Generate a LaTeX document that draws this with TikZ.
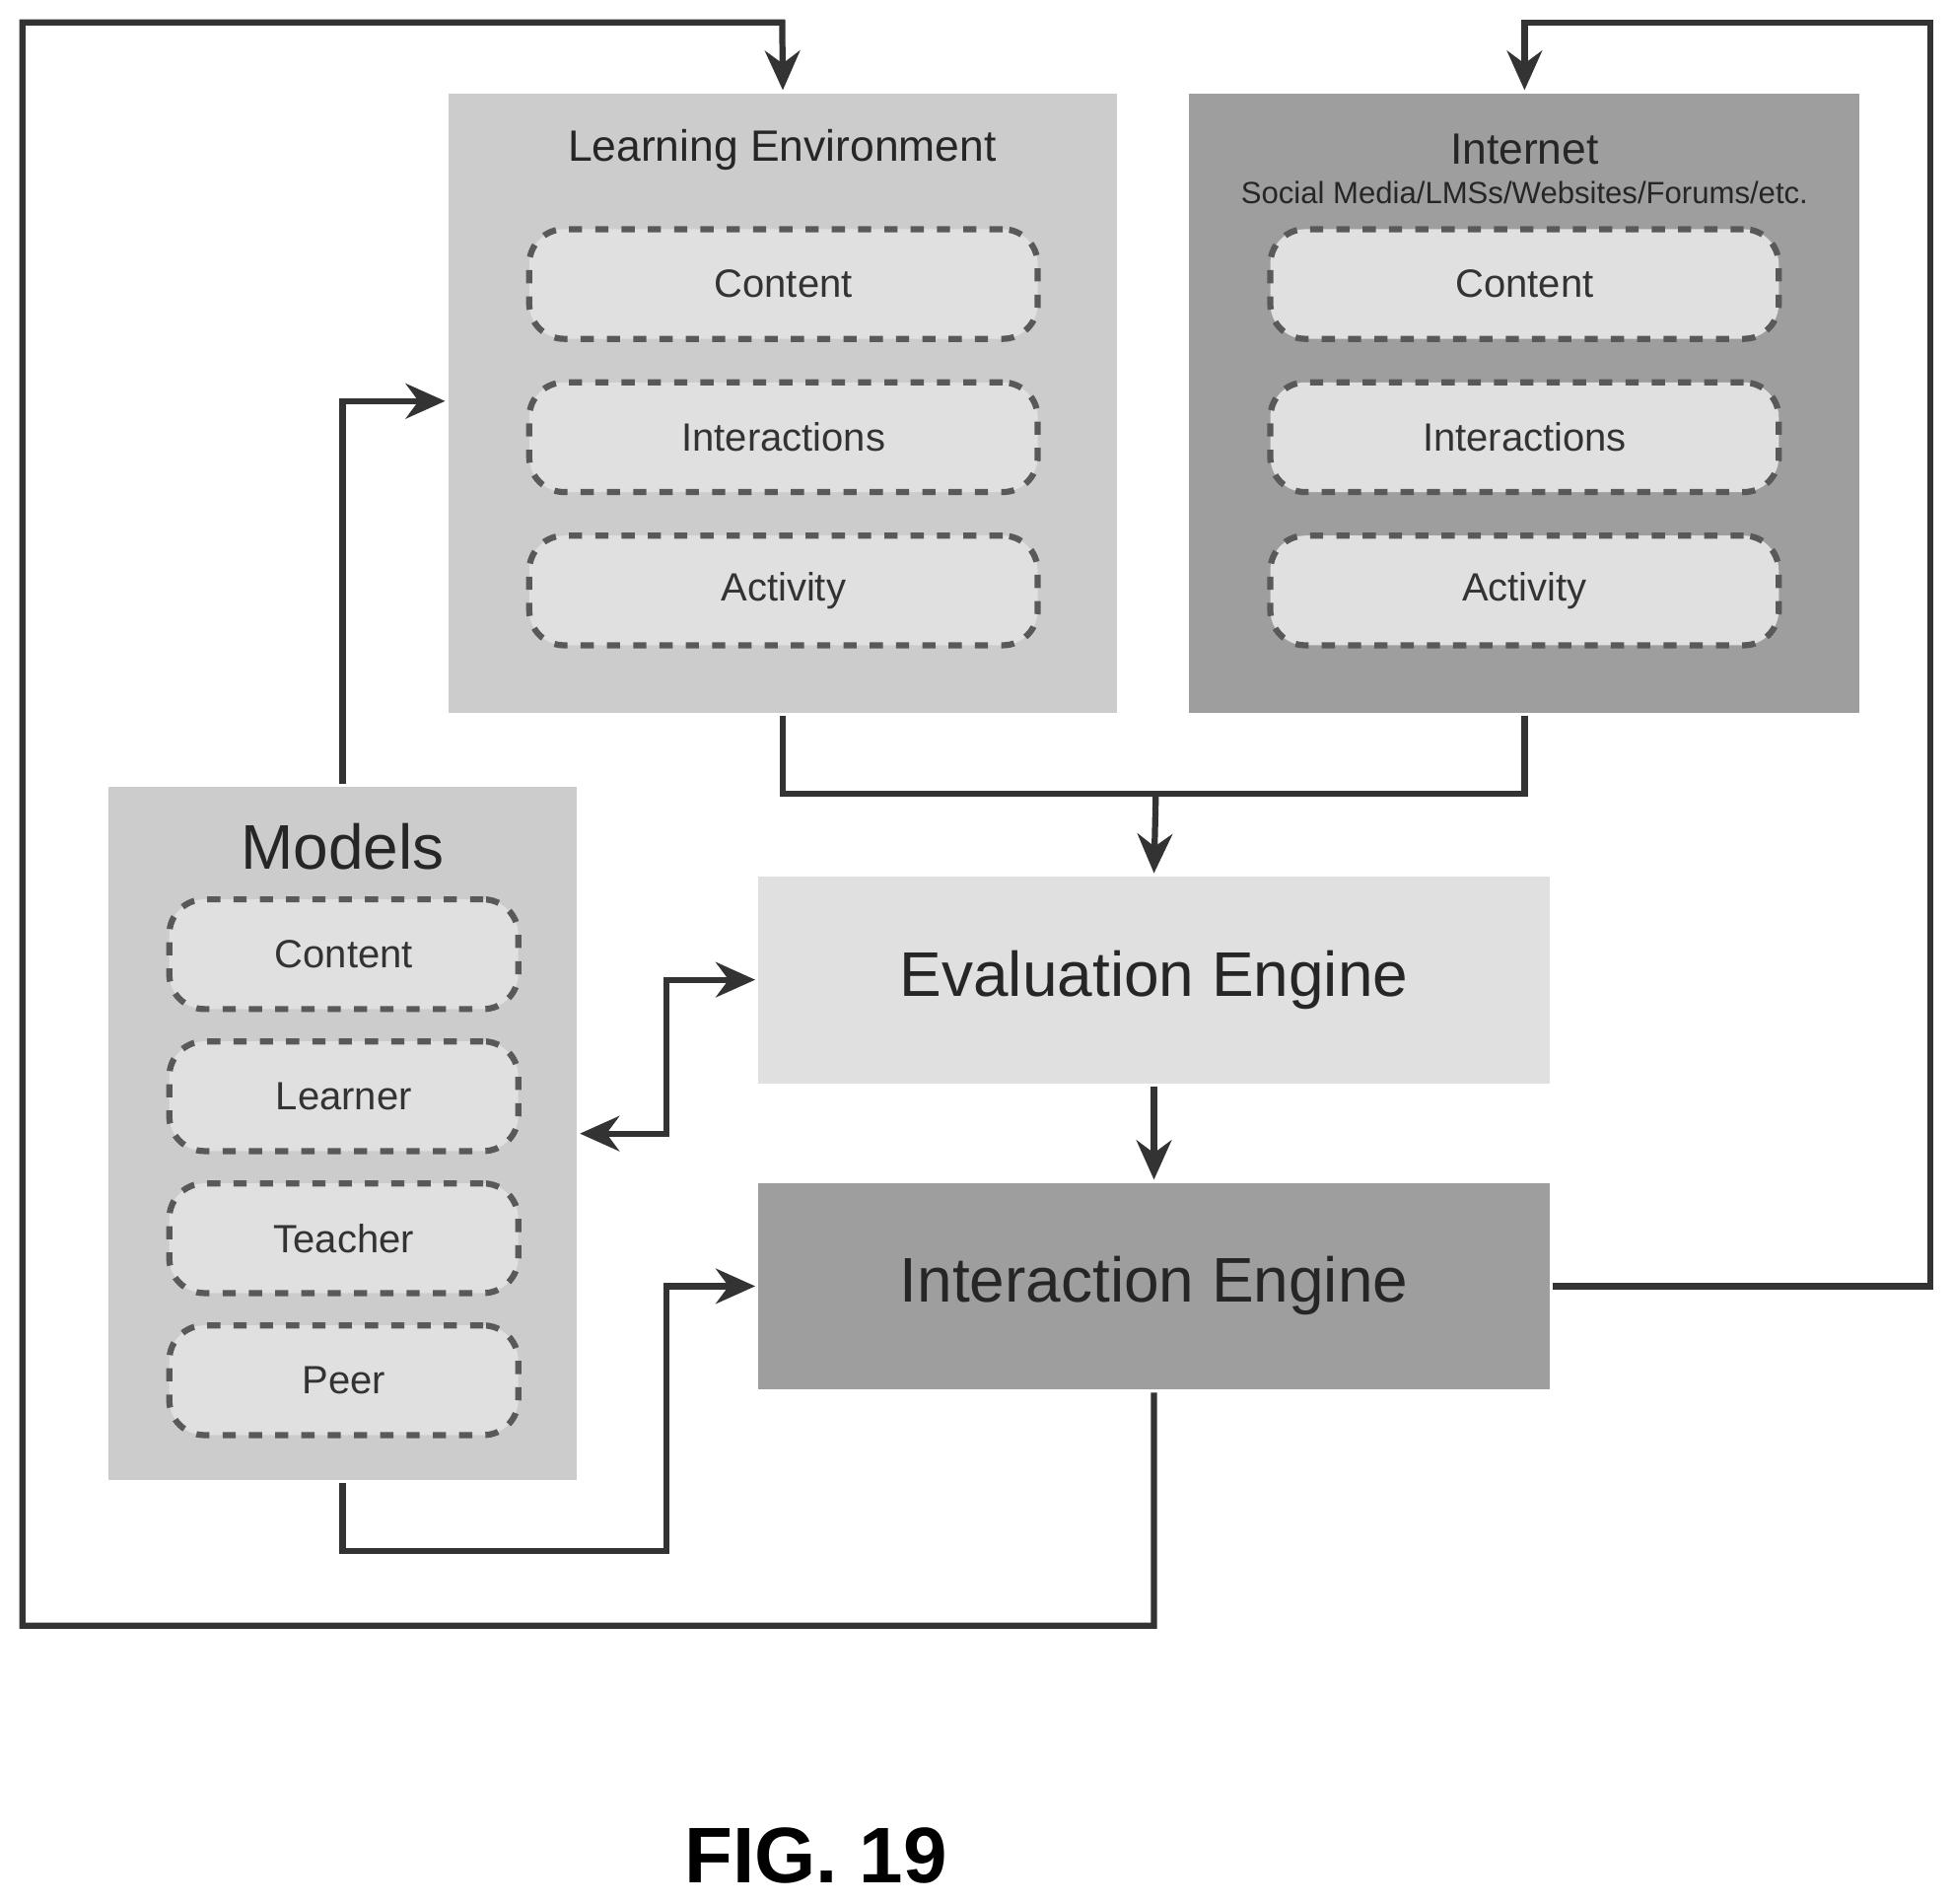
\documentclass[tikz,border=0pt]{standalone}
\usepackage{fontspec}
\setmainfont{Liberation Sans}
\usetikzlibrary{positioning,arrows.meta}
\definecolor{panel}{gray}{0.80}
\definecolor{darkpanel}{gray}{0.62}
\definecolor{lightpanel}{gray}{0.88}
\begin{document}
\begin{tikzpicture}[x=0.01cm,y=-0.01cm,thick,line width=1.4pt,
  panel/.style={fill=panel,draw=none,inner sep=0pt},
  item/.style={draw=gray!70!black,dashed,rounded corners=8pt,fill=lightpanel,
    minimum width=4.08cm,minimum height=0.88cm,font=\small,text=gray!40!black},
  engine/.style={draw=none,minimum width=6.35cm,minimum height=1.66cm,font=\Large,text=gray!30!black},
  link/.style={draw=black!80,-{Stealth[length=9pt,width=8pt]}}]

  \useasboundingbox (0,0) rectangle (1568,1528);

  % panels
  \node[panel,minimum width=5.37cm,minimum height=4.97cm] (learn) at (628.5,323.5) {};
  \node[panel,fill=darkpanel,minimum width=5.38cm,minimum height=4.97cm] (net) at (1224,323.5) {};
  \node[panel,minimum width=3.76cm,minimum height=5.56cm] (models) at (275,910) {};

  \node[font=\normalsize,text=gray!30!black] at (628,120) {Learning Environment};
  \node[font=\normalsize,text=gray!30!black] at (1224,120) {Internet};
  \node[font=\scriptsize,text=gray!30!black] at (1224,155) {Social Media/LMSs/Websites/Forums/etc.};
  \node[font=\Large,text=gray!30!black] at (275,680) {Models};

  % items
  \node[item] (lcont) at (629,228) {Content};
  \node[item] (linter) at (629,351) {Interactions};
  \node[item] (lact) at (629,474) {Activity};
  \node[item] (ncont) at (1224,228) {Content};
  \node[item] (ninter) at (1224,351) {Interactions};
  \node[item] (nact) at (1224,474) {Activity};
  \node[item,minimum width=2.80cm] (mcont) at (276,766) {Content};
  \node[item,minimum width=2.80cm] (mlearn) at (276,880) {Learner};
  \node[item,minimum width=2.80cm] (mteach) at (276,994) {Teacher};
  \node[item,minimum width=2.80cm] (mpeer) at (276,1108) {Peer};

  % engines
  \node[engine,fill=lightpanel] (eval) at (926.5,786.5) {Evaluation Engine};
  \node[engine,fill=darkpanel] (inter) at (926.5,1032.5) {Interaction Engine};

  % connectors
  \coordinate (join) at (928,637);
  \draw[draw=black!80] (learn.south) |- (join) -| (net.south);
  \draw[link] (join) -- (eval.north);
  \draw[link] (eval.south) -- (inter.north);
  \draw[link] (models.north) |- (learn.west |- 0,322);
  \draw[link,{Stealth[length=9pt,width=8pt]}-{Stealth[length=9pt,width=8pt]}]
    (models.east |- 0,910) -- (535,910) |- (eval.west);
  \draw[link] (models.south) |- (535,1245) |- (inter.west);
  \draw[link] (inter.south) |- (18,1305) |- (628,18) -- (learn.north);
  \draw[link] (inter.east) -| (1550,18) -| (net.north);

  \node[font=\bfseries\fontsize{18}{22}\selectfont] (fig) at (655,1490) {FIG. 19};
\end{tikzpicture}
\end{document}
